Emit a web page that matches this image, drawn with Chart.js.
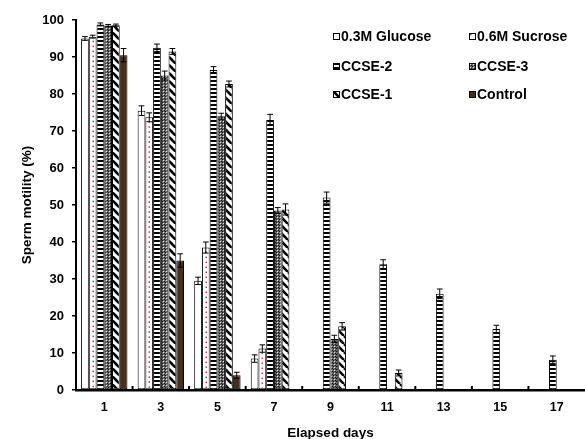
<!DOCTYPE html>
<html>
<head>
<meta charset="utf-8">
<script src="https://cdn.jsdelivr.net/npm/chart.js@4/dist/chart.umd.min.js"></script>
<style>
  body { margin: 0; background: #fff; font-family: "Liberation Sans", Arial, sans-serif; }
  #wrap { position: relative; width: 585px; height: 439px; }
  .item { position: absolute; font-weight: bold; font-size: 14px; line-height: 16px; color: #000; display: flex; align-items: center; white-space: nowrap; }
  .item canvas { width: 7px; height: 7px; margin-right: 1px; }
</style>
</head>
<body>
<div id="wrap">
  <canvas id="chart" width="585" height="439"></canvas>
  <div id="legend"></div>
</div>
<script>
'use strict';

const days = ['1', '3', '5', '7', '9', '11', '13', '15', '17'];

const glucose    = [95,   75.5, 29.5, 8.5,  null, null, null, null, null];
const glucoseErr = [0.5,  1.3,  1.0,  1.0,  0,    0,    0,    0,    0];
const sucrose    = [95.5, 73.7, 38.5, 11.2, null, null, null, null, null];
const sucroseErr = [0.4,  1.2,  1.5,  1.0,  0,    0,    0,    0,    0];
const ccse2      = [98.8, 92.5, 86.5, 73,   52,   34,   26,   16.5, 8.2];
const ccse2Err   = [0.4,  1.0,  0.9,  1.5,  1.5,  1.2,  1.3,  1.0,  1.0];
const ccse3      = [98.5, 85,   74,   48.5, 13.8, null, null, null, null];
const ccse3Err   = [0.3,  1.2,  0.8,  0.8,  1.0,  0,    0,    0,    0];
const ccse1      = [98.6, 91.5, 82.7, 48.8, 17.2, 4.6,  null, null, null];
const ccse1Err   = [0.3,  0.8,  0.8,  1.5,  1.0,  0.8,  0,    0,    0];
const control    = [90.5, 35,   4,    null, null, null, null, null, null];
const controlErr = [1.8,  1.8,  0.8,  0,    0,    0,    0,    0,    0];

const yTicks = { min: 0, max: 100, step: 10 };

function makePattern(w, h, draw) {
  const c = document.createElement('canvas');
  c.width = w; c.height = h;
  const g = c.getContext('2d');
  draw(g, w, h);
  return c.getContext('2d').createPattern(c, 'repeat');
}

const hStripes = makePattern(4, 4, (g) => {
  g.fillStyle = '#fff'; g.fillRect(0, 0, 4, 4);
  g.fillStyle = '#000'; g.fillRect(0, 0, 4, 2);
});
const mesh = makePattern(3, 3, (g) => {
  g.fillStyle = '#6a6a6a'; g.fillRect(0, 0, 3, 3);
  g.fillStyle = '#111'; g.fillRect(0, 0, 1, 1); g.fillRect(2, 2, 1, 1);
  g.fillStyle = '#e8e8e8'; g.fillRect(1, 1, 1, 1);
});
const diag = makePattern(8, 8, (g) => {
  g.fillStyle = '#fff'; g.fillRect(0, 0, 8, 8);
  g.strokeStyle = '#000'; g.lineWidth = 2.6;
  for (const o of [-8, 0, 8]) {
    g.beginPath(); g.moveTo(o, 0); g.lineTo(o + 8, 8); g.stroke();
  }
});

const series = [
  { label: '0.3M Glucose', data: glucose, err: glucoseErr, fill: '#fff' },
  { label: '0.6M Sucrose', data: sucrose, err: sucroseErr, fill: '#fff' },
  { label: 'CCSE-2', data: ccse2, err: ccse2Err, fill: hStripes },
  { label: 'CCSE-3', data: ccse3, err: ccse3Err, fill: mesh },
  { label: 'CCSE-1', data: ccse1, err: ccse1Err, fill: diag },
  { label: 'Control', data: control, err: controlErr, fill: '#4a2e1c' },
];

// dotted red line down the middle of the sucrose bars
const sucroseDots = {
  id: 'sucroseDots',
  afterDatasetDraw(chart, args) {
    if (args.index !== 1) return;
    const ctx = chart.ctx;
    ctx.save();
    ctx.fillStyle = '#c8306a';
    args.meta.data.forEach((el, i) => {
      if (sucrose[i] == null) return;
      for (let y = el.y + 4; y < el.base - 1; y += 5) ctx.fillRect(Math.round(el.x) - 0.5, y, 1.5, 1.5);
    });
    ctx.restore();
  },
};

const errorBars = {
  id: 'errorBars',
  afterDatasetsDraw(chart) {
    const ctx = chart.ctx;
    const ys = chart.scales.y;
    ctx.save();
    ctx.strokeStyle = '#000';
    ctx.lineWidth = 1;
    chart.data.datasets.forEach((ds, di) => {
      chart.getDatasetMeta(di).data.forEach((el, i) => {
        const v = ds.data[i];
        if (v == null || !ds.err[i]) return;
        const top = ys.getPixelForValue(v + ds.err[i]);
        const bot = ys.getPixelForValue(v - ds.err[i]);
        const hw = el.width / 2 - 1;
        ctx.beginPath();
        ctx.moveTo(el.x, top); ctx.lineTo(el.x, bot);
        ctx.moveTo(el.x - hw, top); ctx.lineTo(el.x + hw, top);
        ctx.moveTo(el.x - hw, bot); ctx.lineTo(el.x + hw, bot);
        ctx.stroke();
      });
    });
    ctx.restore();
  },
};

// little marks between categories on the x axis
const catMarks = {
  id: 'catMarks',
  afterDraw(chart) {
    const xs = chart.scales.x;
    const ctx = chart.ctx;
    const b = chart.chartArea.bottom;
    ctx.save();
    ctx.fillStyle = '#000';
    for (let i = 0; i < days.length - 1; i++) {
      const x = (xs.getPixelForTick(i) + xs.getPixelForTick(i + 1)) / 2;
      ctx.fillRect(x - 1, b - 4, 2, 4);
    }
    ctx.restore();
  },
};

const family = '"Liberation Sans", Arial, sans-serif';

new Chart(document.getElementById('chart'), {
  type: 'bar',
  data: {
    labels: days,
    datasets: series.map((s) => ({
      label: s.label,
      data: s.data,
      err: s.err,
      backgroundColor: s.fill,
      borderColor: '#000',
      borderWidth: 1,
      borderSkipped: false,
      categoryPercentage: 0.82,
      barPercentage: 1,
    })),
  },
  options: {
    responsive: false,
    animation: false,
    layout: { padding: { top: 20, right: 0, bottom: 0, left: 0 } },
    plugins: { legend: { display: false }, tooltip: { enabled: false } },
    scales: {
      x: {
        afterFit: (s) => { s.height = 49; },
        grid: { display: false },
        border: { color: '#000', width: 2.5 },
        ticks: { color: '#000', font: { family, size: 12.5, weight: 'bold' }, padding: 2 },
        title: {
          display: true, text: 'Elapsed days', color: '#000',
          font: { family, size: 13.5, weight: 'bold' }, padding: { top: 0, bottom: -2 },
        },
      },
      y: {
        min: yTicks.min,
        max: yTicks.max,
        afterFit: (s) => { s.width = 76; },
        grid: { drawOnChartArea: false, color: '#000', lineWidth: 1.5, tickLength: 4 },
        border: { color: '#000', width: 2 },
        ticks: { stepSize: yTicks.step, color: '#000', font: { family, size: 13, weight: 'bold' }, padding: 8 },
        title: {
          display: true, text: 'Sperm motility (%)', color: '#000',
          font: { family, size: 13.5, weight: 'bold' }, padding: { top: 19, bottom: 0 },
        },
      },
    },
  },
  plugins: [sucroseDots, errorBars, catMarks],
});

// legend, two columns
const legendPos = [[333, 28], [469, 28], [333, 58], [469, 58], [333, 86], [469, 86]];
const legend = document.getElementById('legend');
series.forEach((s, i) => {
  const item = document.createElement('div');
  item.className = 'item';
  item.style.left = legendPos[i][0] + 'px';
  item.style.top = legendPos[i][1] + 'px';
  const sw = document.createElement('canvas');
  sw.width = 7; sw.height = 7;
  const g = sw.getContext('2d');
  g.fillStyle = s.fill; g.fillRect(0, 0, 7, 7);
  if (i === 1) { g.fillStyle = '#c8306a'; g.fillRect(1, 1, 1.5, 1.5); }
  g.strokeStyle = '#000'; g.lineWidth = 1; g.strokeRect(0.5, 0.5, 6, 6);
  item.appendChild(sw);
  item.appendChild(document.createTextNode(s.label));
  legend.appendChild(item);
});
</script>
</body>
</html>
